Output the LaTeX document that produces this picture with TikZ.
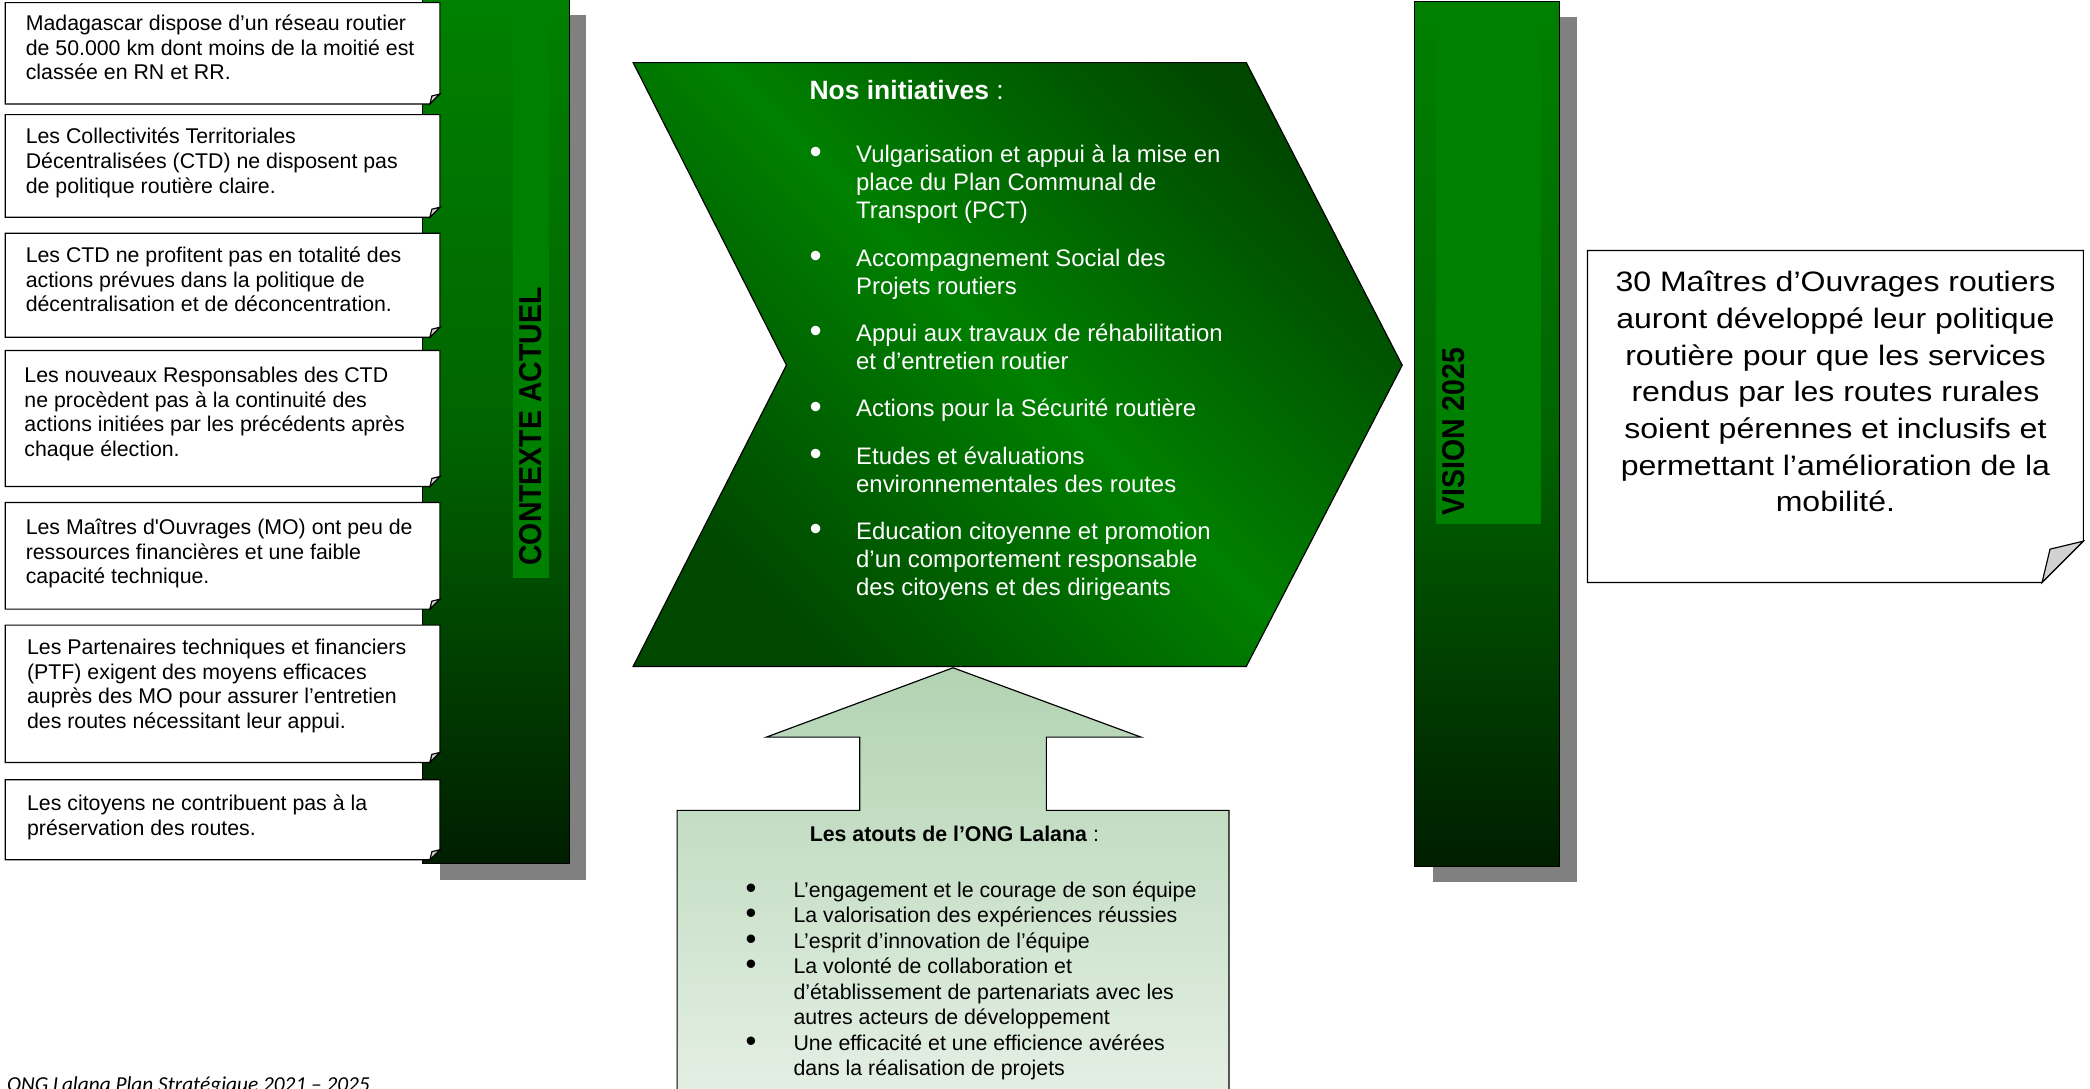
\documentclass[tikz,border=0pt]{standalone}
\usepackage{fontspec}
\setmainfont{Liberation Sans}
\newfontfamily\barfont[FakeStretch=0.9]{Liberation Sans}
\newfontfamily\widefont[FakeStretch=1.14]{Liberation Sans}
\newfontfamily\footerfont{Carlito}
\usepackage{xcolor}
\usepackage{tikz}
\usetikzlibrary{positioning}

\definecolor{barTop}{RGB}{0,128,0}
\definecolor{barMid}{RGB}{0,100,0}
\definecolor{barBot}{RGB}{0,30,0}
\definecolor{chevDark}{RGB}{0,72,0}
\definecolor{chevLight}{RGB}{0,128,0}
\definecolor{atoutTop}{RGB}{178,211,178}
\definecolor{atoutBot}{RGB}{235,243,235}
\definecolor{foldGray}{RGB}{210,210,210}
\definecolor{shadowGray}{RGB}{128,128,128}

\newcommand{\bigbul}{\raisebox{-0.5pt}{\scalebox{1.45}{\textbullet}}}

\begin{document}
\begin{tikzpicture}[
          outline/.style={draw=black, line width=0.5pt},
          shadow/.style={fill=shadowGray},
          greenbar/.style={outline, top color=barTop, bottom color=barBot, middle color=barMid},
          fold/.style={outline, fill=foldGray},
          ctxtext/.style={anchor=base west, inner sep=0pt, font=\fontsize{9.1}{10.5}\selectfont},
          barlabel/.style={rotate=90, anchor=base, inner sep=0pt, font=\barfont\bfseries\fontsize{13.5}{16}\selectfont}
        ]
          \useasboundingbox (0,0) rectangle (31.36,16.34);

          % colonne contexte
          \fill[shadow] (6.60,3.14) rectangle (8.80,16.12);
          \draw[greenbar] (6.34,3.38) rectangle (8.55,16.40);
          \fill[barTop] (7.70,7.67) rectangle (8.24,16.04);
          \node[barlabel] (ctxLabel) at (8.13,9.94) {CONTEXTE ACTUEL};

          \foreach \t/\b in {16.30/14.78, 14.62/13.08, 12.84/11.28, 11.08/9.04, 8.80/7.20, 6.96/4.90, 4.64/3.44} {
            \draw[outline, fill=white] (0.08,\t) -- (6.60,\t) -- (6.60,\b+0.15) -- (6.45,\b) -- (0.08,\b) -- cycle;
            \draw[fold] (6.60,\b+0.15) -- (6.48,\b+0.12) -- (6.45,\b) -- cycle;
          }

          \node[ctxtext] (ctx1) at (0.38,15.88) {\begin{tabular}[t]{@{}l@{}}Madagascar dispose d’un réseau routier\\ de 50.000 km dont moins de la moitié est\\ classée en RN et RR.\end{tabular}};
          \node[ctxtext] (ctx2) at (0.38,14.18) {\begin{tabular}[t]{@{}l@{}}Les Collectivités Territoriales\\ Décentralisées (CTD) ne disposent pas\\ de politique routière claire.\end{tabular}};
          \node[ctxtext] (ctx3) at (0.38,12.40) {\begin{tabular}[t]{@{}l@{}}Les CTD ne profitent pas en totalité des\\ actions prévues dans la politique de\\ décentralisation et de déconcentration.\end{tabular}};
          \node[ctxtext] (ctx4) at (0.36,10.60) {\begin{tabular}[t]{@{}l@{}}Les nouveaux Responsables des CTD\\ ne procèdent pas à la continuité des\\ actions initiées par les précédents après\\ chaque élection.\end{tabular}};
          \node[ctxtext] (ctx5) at (0.38,8.32) {\begin{tabular}[t]{@{}l@{}}Les Maîtres d\textquotesingle Ouvrages (MO) ont peu de\\ ressources financières et une faible\\ capacité technique.\end{tabular}};
          \node[ctxtext] (ctx6) at (0.40,6.52) {\begin{tabular}[t]{@{}l@{}}Les Partenaires techniques et financiers\\ (PTF) exigent des moyens efficaces\\ auprès des MO pour assurer l’entretien\\ des routes nécessitant leur appui.\end{tabular}};
          \node[ctxtext] (ctx7) at (0.40,4.18) {\begin{tabular}[t]{@{}l@{}}Les citoyens ne contribuent pas à la\\ préservation des routes.\end{tabular}};

          % chevron des initiatives
          \draw[outline, top color=chevDark, bottom color=chevDark, middle color=chevLight, shading angle=-45]
            (9.50,15.40) -- (18.70,15.40) -- (21.04,10.86) -- (18.70,6.34) -- (9.50,6.34) -- (11.80,10.86) -- cycle;
          \node[anchor=base west, inner sep=0pt, text=white, font=\fontsize{11.3}{13.5}\selectfont] (initTitle) at (12.14,14.84) {\textbf{Nos initiatives} :};
          \node[anchor=base west, inner sep=0pt, text=white, font=\fontsize{10.2}{12}\selectfont] (initList) at (12.14,13.90) {%
            \begin{tabular}[t]{@{}p{0.70cm}@{}l@{}}
              \bigbul & Vulgarisation et appui à la mise en\\
                      & place du Plan Communal de\\
                      & Transport (PCT)\\[8.2pt]
              \bigbul & Accompagnement Social des\\
                      & Projets routiers\\[8.2pt]
              \bigbul & Appui aux travaux de réhabilitation\\
                      & et d’entretien routier\\[8.2pt]
              \bigbul & Actions pour la Sécurité routière\\[8.2pt]
              \bigbul & Etudes et évaluations\\
                      & environnementales des routes\\[8.2pt]
              \bigbul & Education citoyenne et promotion\\
                      & d’un comportement responsable\\
                      & des citoyens et des dirigeants
            \end{tabular}};

          % fleche des atouts
          \draw[outline, top color=atoutTop, bottom color=atoutBot]
            (10.16,-1) -- (10.16,4.18) -- (12.90,4.18) -- (12.90,5.28) -- (11.50,5.28) -- (14.30,6.32)
            -- (17.12,5.28) -- (15.70,5.28) -- (15.70,4.18) -- (18.44,4.18) -- (18.44,-1) -- cycle;
          \node[anchor=base, inner sep=0pt, font=\fontsize{9.1}{10.9}\selectfont] (atoutTitle) at (14.32,3.72) {\textbf{Les atouts de l’ONG Lalana} :};
          \node[anchor=base west, inner sep=0pt, font=\fontsize{9.1}{10.9}\selectfont] (atoutList) at (11.18,2.88) {%
            \begin{tabular}[t]{@{}p{0.72cm}@{}l@{}}
              \bigbul & L’engagement et le courage de son équipe\\
              \bigbul & La valorisation des expériences réussies\\
              \bigbul & L’esprit d’innovation de l’équipe\\
              \bigbul & La volonté de collaboration et\\
                      & d’établissement de partenariats avec les\\
                      & autres acteurs de développement\\
              \bigbul & Une efficacité et une efficience avérées\\
                      & dans la réalisation de projets
            \end{tabular}};

          % colonne vision
          \fill[shadow] (21.50,3.10) rectangle (23.66,16.08);
          \draw[greenbar] (21.22,3.34) rectangle (23.40,16.32);
          \fill[barTop] (21.54,8.48) rectangle (23.12,15.94);
          \node[barlabel] (visionLabel) at (21.98,9.86) {VISION 2025};

          \draw[outline, fill=white] (23.82,12.58) -- (31.26,12.58) -- (31.26,8.22) -- (30.64,7.60) -- (23.82,7.60) -- cycle;
          \draw[fold] (31.26,8.22) -- (30.76,8.10) -- (30.64,7.60) -- cycle;
          \node[anchor=base, inner sep=0pt, font=\widefont\fontsize{12}{15.65}\selectfont] (visionText) at (27.54,11.96) {%
            \begin{tabular}[t]{@{}c@{}}
              30 Maîtres d’Ouvrages routiers\\
              auront développé leur politique\\
              routière pour que les services\\
              rendus par les routes rurales\\
              soient pérennes et inclusifs et\\
              permettant l’amélioration de la\\
              mobilité.
            \end{tabular}};

          \node[anchor=base west, inner sep=0pt, font=\footerfont\itshape\fontsize{9.1}{11}\selectfont] (footer) at (0.10,-0.04) {ONG Lalana Plan Stratégique 2021 – 2025};
        \end{tikzpicture}
\end{document}
